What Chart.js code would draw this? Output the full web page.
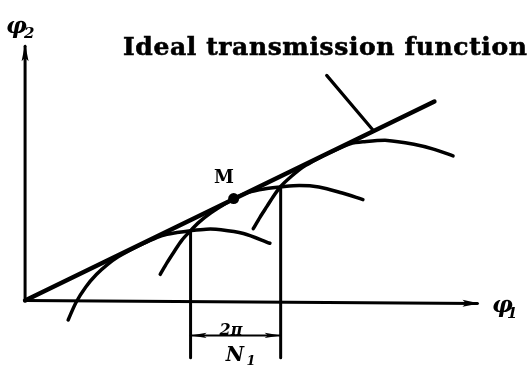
<!DOCTYPE html>
<html>
<head>
<meta charset="utf-8">
<script src="https://cdn.jsdelivr.net/npm/chart.js@4.4.1/dist/chart.umd.min.js"></script>
<style>
  html, body { margin: 0; padding: 0; background: #fff; }
  #wrap { width: 530px; height: 372px; }
</style>
</head>
<body>
<div id="wrap"><canvas id="c"></canvas></div>
<script>
// values, phi1 / phi2 in drawing units from the origin
const idealLine = [[0, 0], [418, 205]];
const arc1 = [[44, -20], [52, -2], [62, 14], [73, 27], [84, 37], [95, 45], [110, 53.5], [125, 60.7],
  [140, 67], [155, 70], [169, 72], [185, 73.5], [200, 73], [223, 69], [250, 59]];
const arc2 = [[138, 27], [145, 39], [152, 50], [160, 62], [169, 72], [178, 81], [188, 89], [200, 97],
  [213, 105], [228, 111.5], [244, 115], [261, 117], [280, 118.5], [300, 117], [323, 111], [345, 104]];
const arc3 = [[233, 74], [240, 86], [247, 97], [254, 108], [261, 117.5], [272, 128], [283, 137], [295, 144],
  [307, 150.5], [320, 156.5], [332, 161.5], [345, 163.5], [370, 165], [397, 161], [417, 156], [437, 149]];
const pointM = [[213, 105]];
const leader = [[308, 232], [355, 176]];
const pitchLeft = [[169, 72], [169, -59]];
const pitchRight = [[261, 117.5], [261, -59]];
const pitchDim = [[169, -36], [261, -36]];
const axisPhi1 = [[0, 0], [462, -3]];
const axisPhi2 = [[0, 0], [0, 262]];

const toXY = arr => arr.map(p => ({ x: p[0], y: p[1] }));

function line(data, width, tension) {
  return {
    data: toXY(data),
    showLine: true,
    borderColor: '#000',
    borderWidth: width,
    pointRadius: 0,
    tension: tension || 0,
    borderCapStyle: 'round'
  };
}

function arrowHead(ctx, tipX, tipY, angle, len, half) {
  ctx.save();
  ctx.translate(tipX, tipY);
  ctx.rotate(angle);
  ctx.beginPath();
  ctx.moveTo(0, 0);
  ctx.lineTo(-len, -half);
  ctx.lineTo(-len * 0.8, 0);
  ctx.lineTo(-len, half);
  ctx.closePath();
  ctx.fill();
  ctx.restore();
}

const decor = {
  id: 'decor',
  afterDatasetsDraw(chart) {
    const ctx = chart.ctx;
    const sx = chart.scales.x, sy = chart.scales.y;
    const X = v => sx.getPixelForValue(v);
    const Y = v => sy.getPixelForValue(v);
    ctx.save();
    ctx.fillStyle = '#000';
    ctx.strokeStyle = '#000';

    // axis arrows
    const a1 = axisPhi1[1], a2 = axisPhi2[1];
    arrowHead(ctx, X(a1[0]) + 2, Y(a1[1]), Math.atan2(Y(a1[1]) - Y(0), X(a1[0]) - X(0)), 17, 3.5);
    arrowHead(ctx, X(a2[0]), Y(a2[1]) - 2, -Math.PI / 2, 17, 3.5);

    // dimension arrows
    arrowHead(ctx, X(pitchDim[0][0]), Y(pitchDim[0][1]), Math.PI, 16, 2.6);
    arrowHead(ctx, X(pitchDim[1][0]), Y(pitchDim[1][1]), 0, 16, 2.6);

    // title, heavy slab look
    ctx.font = 'bold 25px "DejaVu Serif"';
    ctx.textBaseline = 'alphabetic';
    ctx.textAlign = 'left';
    const title = 'Ideal transmission function';
    const w = ctx.measureText(title).width;
    ctx.letterSpacing = ((404 - w) / 26).toFixed(2) + 'px';
    ctx.lineWidth = 0.6;
    ctx.fillText(title, 123, 55);
    ctx.strokeText(title, 123, 55);
    ctx.letterSpacing = '0px';

    // M
    ctx.font = 'bold 18px "DejaVu Serif"';
    ctx.textAlign = 'center';
    ctx.fillText('M', 224, 183);

    // 2pi / N1
    ctx.font = 'italic bold 16px "DejaVu Serif"';
    ctx.fillText('2π', 231, 335);
    ctx.font = 'italic bold 20px "DejaVu Serif"';
    ctx.fillText('N', 235, 361);
    ctx.font = 'italic bold 13px "DejaVu Serif"';
    ctx.fillText('1', 251, 365);

    // axis labels
    ctx.textAlign = 'left';
    ctx.font = 'italic bold 23px "DejaVu Serif"';
    ctx.fillText('φ', 492, 312);
    ctx.fillText('φ', 6, 33);
    ctx.font = 'italic bold 15px "DejaVu Serif"';
    ctx.fillText('1', 507, 318);
    ctx.fillText('2', 24, 38);
    ctx.restore();
  }
};

new Chart(document.getElementById('c'), {
  type: 'scatter',
  data: {
    datasets: [
      line(axisPhi1, 3),
      line(axisPhi2, 3),
      line(idealLine, 4.5),
      line(arc1, 3.5, 0.3),
      line(arc2, 3.5, 0.3),
      line(arc3, 3.5, 0.3),
      line(leader, 3.2),
      line(pitchLeft, 3),
      line(pitchRight, 3),
      line(pitchDim, 2),
      { data: toXY(pointM), pointRadius: 5.5, pointBackgroundColor: '#000', pointBorderWidth: 0, showLine: false }
    ]
  },
  options: {
    responsive: true,
    maintainAspectRatio: false,
    animation: false,
    layout: { padding: 0 },
    plugins: { legend: { display: false }, tooltip: { enabled: false } },
    scales: {
      x: { type: 'linear', display: false, min: -20, max: 510 },
      y: { type: 'linear', display: false, min: -68, max: 304 }
    }
  },
  plugins: [decor]
});
</script>
</body>
</html>
